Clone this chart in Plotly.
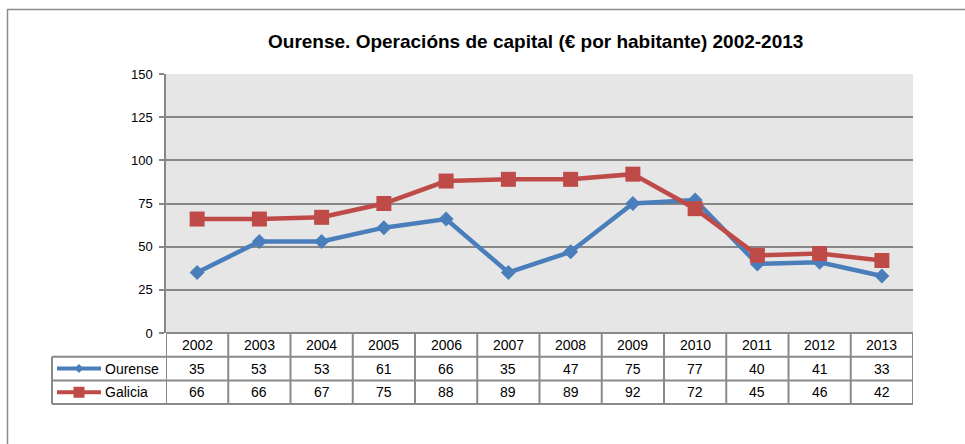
import plotly.graph_objects as go

# Data
years = [2002, 2003, 2004, 2005, 2006, 2007, 2008, 2009, 2010, 2011, 2012, 2013]
ourense = [35, 53, 53, 61, 66, 35, 47, 75, 77, 40, 41, 33]
galicia = [66, 66, 67, 75, 88, 89, 89, 92, 72, 45, 46, 42]
y_ticks = [0, 25, 50, 75, 100, 125, 150]
title_text = "Ourense. Operacións de capital (€ por habitante) 2002-2013"

W, H = 965, 444
BLUE = "#4a7ebb"
RED = "#be4b48"
GRID = "#878787"
TABLE_LINE = "#8a8a8a"
FONT = "Liberation Sans, Arial, sans-serif"


def px_x(p):
    return p / W


def px_y(p):
    return 1 - p / H


# layout geometry (pixels)
plot_l, plot_r = 166, 913
plot_t, plot_b = 74, 333
row_lines = [333, 356.7, 380.5, 404]
legend_l = 52

fig = go.Figure()

fig.add_trace(go.Scatter(
    x=years, y=ourense, mode="lines+markers", name="Ourense",
    line=dict(color=BLUE, width=4.5),
    marker=dict(symbol="diamond", size=11.5, color=BLUE),
    showlegend=False, cliponaxis=False,
))
fig.add_trace(go.Scatter(
    x=years, y=galicia, mode="lines+markers", name="Galicia",
    line=dict(color=RED, width=4.5),
    marker=dict(symbol="square", size=15, color=RED),
    showlegend=False, cliponaxis=False,
))

shapes = []
annotations = []

# outer chart frame
shapes.append(dict(type="rect", xref="paper", yref="paper",
                   x0=px_x(7.5), x1=1.05, y0=-0.1, y1=px_y(9.5),
                   line=dict(color="#8c8c8c", width=1.5), layer="below"))

# data table: horizontal rules
shapes.append(dict(type="line", xref="x", yref="paper",
                   x0=years[0] - 0.5, x1=years[-1] + 0.5,
                   y0=px_y(row_lines[0]), y1=px_y(row_lines[0]),
                   line=dict(color=TABLE_LINE, width=2)))
for r in row_lines[1:]:
    shapes.append(dict(type="line", xref="paper", yref="paper",
                       x0=px_x(legend_l), x1=px_x(plot_r),
                       y0=px_y(r), y1=px_y(r),
                       line=dict(color=TABLE_LINE, width=2)))
# vertical rules between year columns
for i in range(len(years) + 1):
    xv = years[0] - 0.5 + i
    shapes.append(dict(type="line", xref="x", yref="paper",
                       x0=xv, x1=xv, y0=px_y(row_lines[-1]), y1=px_y(row_lines[0]),
                       line=dict(color=TABLE_LINE, width=2)))
# left edge of legend column
shapes.append(dict(type="line", xref="paper", yref="paper",
                   x0=px_x(legend_l), x1=px_x(legend_l),
                   y0=px_y(row_lines[-1]), y1=px_y(row_lines[1]),
                   line=dict(color=TABLE_LINE, width=2)))

# table text
cell_font = dict(family=FONT, size=14, color="#000000")
rows = [(None, years), ("Ourense", ourense), ("Galicia", galicia)]
for k, (label, vals) in enumerate(rows):
    yc = px_y((row_lines[k] + row_lines[k + 1]) / 2)
    for yr, v in zip(years, vals):
        annotations.append(dict(xref="x", yref="paper", x=yr, y=yc,
                                text=str(v), showarrow=False, font=cell_font,
                                xanchor="center", yanchor="middle"))

# legend keys inside the table
keys = [("Ourense", BLUE, "diamond"), ("Galicia", RED, "square")]
for k, (label, color, sym) in enumerate(keys, start=1):
    yc_px = (row_lines[k] + row_lines[k + 1]) / 2
    yc = px_y(yc_px)
    shapes.append(dict(type="line", xref="paper", yref="paper",
                       x0=px_x(57), x1=px_x(101), y0=yc, y1=yc,
                       line=dict(color=color, width=4)))
    cx = 79
    if sym == "diamond":
        d = 4.5
        path = (f"M {px_x(cx - d)} {px_y(yc_px)} L {px_x(cx)} {px_y(yc_px - d)} "
                f"L {px_x(cx + d)} {px_y(yc_px)} L {px_x(cx)} {px_y(yc_px + d)} Z")
        shapes.append(dict(type="path", xref="paper", yref="paper", path=path,
                           fillcolor=color, line=dict(color=color, width=0)))
    else:
        d = 5.5
        shapes.append(dict(type="rect", xref="paper", yref="paper",
                           x0=px_x(cx - d), x1=px_x(cx + d),
                           y0=px_y(yc_px + d), y1=px_y(yc_px - d),
                           fillcolor=color, line=dict(color=color, width=0)))
    annotations.append(dict(xref="paper", yref="paper", x=px_x(103), y=yc,
                            text=label, showarrow=False, font=cell_font,
                            xanchor="left", yanchor="middle"))

# chart title
annotations.append(dict(xref="paper", yref="paper", x=px_x(535), y=px_y(41),
                        text=f"<b>{title_text}</b>", showarrow=False,
                        font=dict(family=FONT, size=19, color="#000000"),
                        xanchor="center", yanchor="middle"))

fig.update_layout(
    template="none",
    width=W, height=H,
    margin=dict(l=0, r=0, t=0, b=0, pad=0, autoexpand=False),
    paper_bgcolor="white",
    plot_bgcolor="#e6e6e6",
    shapes=shapes,
    annotations=annotations,
    xaxis=dict(
        domain=[px_x(plot_l), px_x(plot_r)],
        range=[years[0] - 0.5, years[-1] + 0.5],
        showticklabels=False, showgrid=False, zeroline=False,
        ticks="", showline=False, fixedrange=True, automargin=False,
    ),
    yaxis=dict(
        domain=[px_y(plot_b), px_y(plot_t)],
        range=[y_ticks[0], y_ticks[-1]],
        tickvals=y_ticks,
        ticks="outside", ticklen=5, tickcolor=GRID, tickwidth=1.5,
        showline=True, linecolor=GRID, linewidth=1.5,
        showgrid=True, gridcolor=GRID, gridwidth=1.5,
        zeroline=False, automargin=False,
        tickfont=dict(family=FONT, size=13, color="#000000"),
        ticklabelstandoff=4,
        fixedrange=True,
    ),
    showlegend=False,
)

fig.write_html("out.html")
